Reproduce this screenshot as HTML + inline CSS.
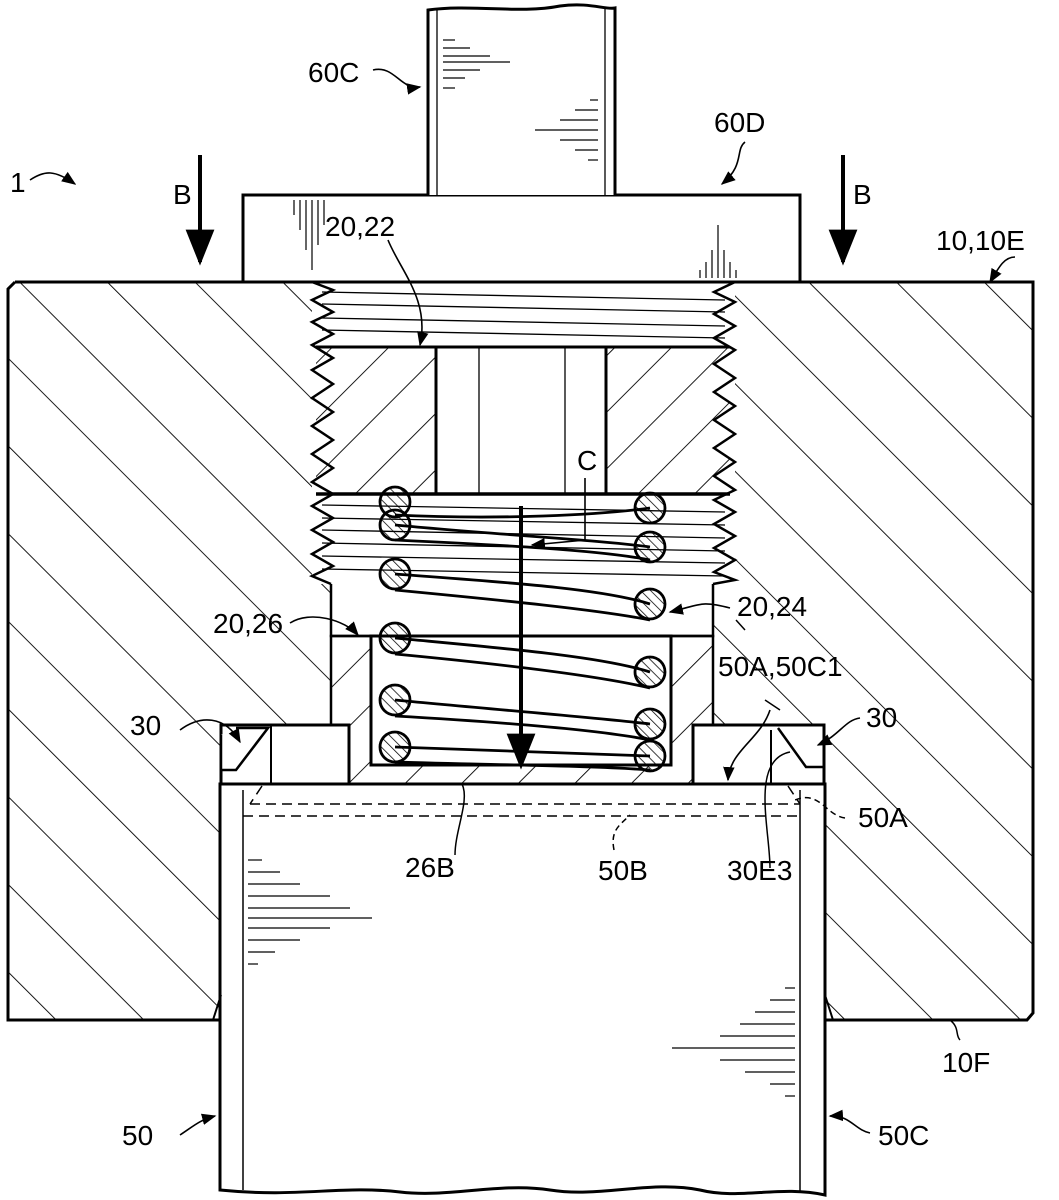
<!DOCTYPE html>
<html><head><meta charset="utf-8"><style>
html,body{margin:0;padding:0;background:#fff;}
svg{display:block}
text{font-family:"Liberation Sans",sans-serif;font-size:28px;fill:#000}
</style></head><body>
<svg width="1059" height="1200" viewBox="0 0 1059 1200" xmlns="http://www.w3.org/2000/svg">
<defs>
<pattern id="hb" width="62" height="62" patternUnits="userSpaceOnUse" patternTransform="rotate(-45)"><line x1="0" y1="0" x2="0" y2="62" stroke="#000" stroke-width="1.8"/></pattern>
<pattern id="hp" width="40" height="40" patternUnits="userSpaceOnUse" patternTransform="rotate(45)"><line x1="0" y1="0" x2="0" y2="40" stroke="#000" stroke-width="1.8"/></pattern>
<pattern id="hc" width="7" height="7" patternUnits="userSpaceOnUse" patternTransform="rotate(-45)"><line x1="0" y1="0" x2="0" y2="7" stroke="#000" stroke-width="1.5"/></pattern>
<marker id="ar" viewBox="0 0 10 10" refX="9" refY="5" markerWidth="9" markerHeight="9" orient="auto"><path d="M0,1 L10,5 L0,9 z" fill="#000"/></marker>
</defs>

<!-- main block -->
<path d="M15,282 L1033,282 L1033,1013 L1027,1020 L825,1020 L825,725 L713,725 L713,584 L735,584 L735,282 L312,282 L312,584 L331,584 L331,725 L221,725 L221,1020 L8,1020 L8,289 Z" fill="url(#hb)" stroke="none"/>
<path d="M15,282 L1033,282 L1033,1013 L1027,1020 L825,1020 M221,1020 L8,1020 L8,289 L15,282" fill="none" stroke="#000" stroke-width="3"/>
<!-- threads left -->
<polyline points="312,282 333,290 312,300 333,312 312,322 333,334 312,345 333,358 312,370 333,384 312,398 333,412 312,426 333,440 312,454 333,468 312,482 333,494 312,506 333,518 312,530 333,542 312,554 333,566 312,576 331,584" fill="none" stroke="#000" stroke-width="2.5"/>
<polyline points="735,282 714,292 735,302 714,314 735,326 714,338 735,350 714,364 735,378 714,392 735,406 714,420 735,434 714,448 735,462 714,476 735,490 714,500 735,512 714,524 735,536 714,548 735,560 714,572 735,580 713,584" fill="none" stroke="#000" stroke-width="2.5"/>
<!-- thread lines -->
<g stroke="#000" stroke-width="1.3">
<line x1="322" y1="292" x2="725" y2="300"/><line x1="322" y1="304" x2="725" y2="312"/><line x1="322" y1="318" x2="725" y2="326"/><line x1="322" y1="330" x2="725" y2="338"/>
<line x1="322" y1="505" x2="725" y2="512"/><line x1="322" y1="518" x2="725" y2="525"/><line x1="322" y1="530" x2="725" y2="538"/><line x1="322" y1="543" x2="725" y2="551"/><line x1="322" y1="556" x2="725" y2="563"/><line x1="322" y1="569" x2="725" y2="576"/>
</g>
<!-- plug 20,22 -->
<path d="M316,347 L730,347 L730,494 L316,494 Z" fill="url(#hp)"/>
<rect x="436" y="347" width="170" height="147" fill="#fff" stroke="#000" stroke-width="3"/>
<line x1="479" y1="347" x2="479" y2="494" stroke="#000" stroke-width="1.3"/>
<line x1="565" y1="347" x2="565" y2="494" stroke="#000" stroke-width="1.3"/>
<line x1="316" y1="347" x2="730" y2="347" stroke="#000" stroke-width="3"/>
<line x1="316" y1="494" x2="730" y2="494" stroke="#000" stroke-width="3.5"/>
<!-- step region -->
<path d="M331,584 L331,636 L713,636 L713,584" fill="#fff" stroke="#000" stroke-width="2.5"/>
<!-- sleeve 26 -->
<path d="M331,636 L371,636 L371,765 L671,765 L671,636 L713,636 L713,725 L693,725 L693,784 L349,784 L349,725 L331,725 Z" fill="url(#hp)" stroke="#000" stroke-width="2.5"/>
<rect x="371" y="636" width="300" height="129" fill="#fff" stroke="#000" stroke-width="3"/>
<!-- collars -->
<path d="M221,725 L349,725 L349,784 L221,784 Z" fill="#fff" stroke="#000" stroke-width="3"/>
<line x1="271" y1="725" x2="271" y2="784" stroke="#000" stroke-width="2"/>
<path d="M221,735 L221,770 L236,770 L268,728 L236,728" fill="#fff" stroke="#000" stroke-width="2.5"/>
<path d="M693,725 L824,725 L824,784 L693,784 Z" fill="#fff" stroke="#000" stroke-width="3"/>
<line x1="771" y1="730" x2="771" y2="784" stroke="#000" stroke-width="2"/>
<path d="M778,728 L806,767 L824,767" fill="none" stroke="#000" stroke-width="2.5"/>
<!-- coils -->
<g stroke="#000" stroke-width="2.8" fill="none">
<path d="M395,525 C500,535 600,540 650,547"/><path d="M395,515 C500,520 600,515 650,508"/>
<path d="M395,574 C500,582 600,588 650,604"/><path d="M395,540 C500,545 600,550 650,560"/>
<path d="M395,590 C500,600 600,610 650,620"/><path d="M395,638 C500,648 600,656 650,672"/>
<path d="M395,654 C500,664 600,676 650,688"/><path d="M395,700 C500,710 600,718 650,724"/>
<path d="M395,716 C500,722 600,730 650,740"/><path d="M395,747 C500,750 600,755 650,756"/>
<path d="M395,762 C500,765 600,766 650,770"/>
</g>
<g stroke="#000" stroke-width="2.8" fill="url(#hc)">
<circle cx="395" cy="502" r="15"/><circle cx="395" cy="525" r="15"/><circle cx="395" cy="574" r="15"/><circle cx="395" cy="638" r="15"/><circle cx="395" cy="700" r="15"/><circle cx="395" cy="747" r="15"/>
<circle cx="650" cy="508" r="15"/><circle cx="650" cy="547" r="15"/><circle cx="650" cy="604" r="15"/><circle cx="650" cy="672" r="15"/><circle cx="650" cy="724" r="15"/><circle cx="650" cy="756" r="15"/>
</g>
<line x1="521" y1="506" x2="521" y2="766" stroke="#000" stroke-width="4" marker-end="url(#ar)"/>
<!-- cylinder 50 -->
<path d="M220,784 L825,784 L825,1195 C780,1185 740,1200 700,1190 C650,1180 600,1198 550,1190 C500,1182 450,1198 400,1192 C340,1185 300,1198 220,1190 Z" fill="#fff" stroke="#000" stroke-width="3"/>
<line x1="243" y1="790" x2="243" y2="1190" stroke="#000" stroke-width="1.5"/>
<line x1="800" y1="790" x2="800" y2="1193" stroke="#000" stroke-width="1.5"/>
<g stroke="#000" stroke-width="1.5" stroke-dasharray="10,6" fill="none">
<line x1="250" y1="804" x2="800" y2="804"/><line x1="243" y1="816" x2="800" y2="816"/>
<line x1="262" y1="786" x2="250" y2="804"/><line x1="788" y1="786" x2="800" y2="804"/>
</g>
<line x1="213" y1="1020" x2="221" y2="995" stroke="#000" stroke-width="2"/>
<line x1="833" y1="1020" x2="825" y2="995" stroke="#000" stroke-width="2"/>
<!-- shading lines on cylinder -->
<g stroke="#000" stroke-width="1.2">
<line x1="248" y1="860" x2="262" y2="860"/><line x1="248" y1="872" x2="280" y2="872"/><line x1="248" y1="884" x2="300" y2="884"/><line x1="248" y1="896" x2="330" y2="896"/><line x1="248" y1="908" x2="350" y2="908"/><line x1="248" y1="918" x2="372" y2="918"/><line x1="248" y1="928" x2="330" y2="928"/><line x1="248" y1="940" x2="300" y2="940"/><line x1="248" y1="952" x2="275" y2="952"/><line x1="248" y1="964" x2="258" y2="964"/>
<line x1="795" y1="988" x2="785" y2="988"/><line x1="795" y1="1000" x2="770" y2="1000"/><line x1="795" y1="1012" x2="755" y2="1012"/><line x1="795" y1="1024" x2="740" y2="1024"/><line x1="795" y1="1036" x2="720" y2="1036"/><line x1="795" y1="1048" x2="672" y2="1048"/><line x1="795" y1="1060" x2="720" y2="1060"/><line x1="795" y1="1072" x2="745" y2="1072"/><line x1="795" y1="1084" x2="770" y2="1084"/><line x1="795" y1="1096" x2="785" y2="1096"/>
</g>
<!-- cap 60D and stem 60C -->
<rect x="243" y="195" width="557" height="87" fill="#fff" stroke="#000" stroke-width="3"/>
<path d="M428,195 L428,10 C470,4 520,14 560,6 C590,2 605,10 615,8 L615,195" fill="#fff" stroke="#000" stroke-width="3"/>
<line x1="437" y1="10" x2="437" y2="195" stroke="#000" stroke-width="1.3"/>
<line x1="605" y1="8" x2="605" y2="195" stroke="#000" stroke-width="1.3"/>
<g stroke="#000" stroke-width="1.2">
<line x1="443" y1="40" x2="455" y2="40"/><line x1="443" y1="48" x2="470" y2="48"/><line x1="443" y1="56" x2="490" y2="56"/><line x1="443" y1="62" x2="510" y2="62"/><line x1="443" y1="70" x2="480" y2="70"/><line x1="443" y1="78" x2="465" y2="78"/><line x1="443" y1="88" x2="455" y2="88"/>
<line x1="598" y1="100" x2="590" y2="100"/><line x1="598" y1="110" x2="575" y2="110"/><line x1="598" y1="120" x2="560" y2="120"/><line x1="598" y1="130" x2="535" y2="130"/><line x1="598" y1="140" x2="560" y2="140"/><line x1="598" y1="150" x2="575" y2="150"/><line x1="598" y1="160" x2="588" y2="160"/>
<line x1="300" y1="200" x2="300" y2="230"/><line x1="306" y1="200" x2="306" y2="250"/><line x1="312" y1="200" x2="312" y2="270"/><line x1="318" y1="200" x2="318" y2="245"/><line x1="324" y1="200" x2="324" y2="225"/><line x1="294" y1="200" x2="294" y2="215"/>
<line x1="700" y1="278" x2="700" y2="270"/><line x1="706" y1="278" x2="706" y2="262"/><line x1="712" y1="278" x2="712" y2="250"/><line x1="718" y1="278" x2="718" y2="225"/><line x1="724" y1="278" x2="724" y2="250"/><line x1="730" y1="278" x2="730" y2="262"/><line x1="736" y1="278" x2="736" y2="270"/>
</g>
<!-- B arrows -->
<line x1="200" y1="155" x2="200" y2="262" stroke="#000" stroke-width="4" marker-end="url(#ar)"/>
<line x1="843" y1="155" x2="843" y2="262" stroke="#000" stroke-width="4" marker-end="url(#ar)"/>
<!-- leaders -->
<g stroke="#000" stroke-width="1.6" fill="none" marker-end="url(#ar)">
<path d="M373,70 C395,65 400,90 420,87"/>
<path d="M745,142 C735,150 745,165 722,184"/>
<path d="M30,180 C45,170 55,170 75,184"/>
<path d="M1015,257 C1005,257 1000,265 990,282"/>
<path d="M388,240 C400,270 430,300 420,345"/>
<path d="M585,478 L585,540 L532,545"/>
<path d="M730,608 C700,600 700,605 670,612"/>
<path d="M290,623 C310,610 345,620 358,635"/>
<path d="M180,730 C200,715 225,715 240,742"/>
<path d="M860,718 C845,720 840,735 818,745"/>
<path d="M770,710 C760,740 730,750 728,780"/>
<path d="M180,1135 C195,1125 200,1120 215,1116"/>
<path d="M870,1133 C855,1130 850,1115 830,1116"/>
</g>
<g stroke="#000" stroke-width="1.5" fill="none">
<path d="M960,1040 C955,1035 960,1028 950,1020"/>
<path d="M770,868 C770,830 750,760 790,752"/>
<path d="M455,855 C455,830 470,800 462,784"/>
<path d="M614,850 C610,830 620,825 630,815" stroke-dasharray="6,4"/>
<path d="M845,818 C825,815 820,790 795,800" stroke-dasharray="6,4"/>
<line x1="736" y1="620" x2="745" y2="630"/>
<line x1="765" y1="700" x2="780" y2="710"/>
</g>
<!-- labels -->
<text x="308" y="82">60C</text>
<text x="714" y="132">60D</text>
<text x="173" y="204" font-size="22">B</text>
<text x="853" y="204" font-size="22">B</text>
<text x="10" y="192">1</text>
<text x="936" y="250">10,10E</text>
<text x="325" y="236">20,22</text>
<text x="577" y="470" font-size="22">C</text>
<text x="737" y="616">20,24</text>
<text x="213" y="633">20,26</text>
<text x="718" y="676">50A,50C1</text>
<text x="130" y="735">30</text>
<text x="866" y="727">30</text>
<text x="405" y="877">26B</text>
<text x="598" y="880">50B</text>
<text x="727" y="880">30E3</text>
<text x="858" y="827">50A</text>
<text x="942" y="1072">10F</text>
<text x="122" y="1145">50</text>
<text x="878" y="1145">50C</text>
</svg>
</body></html>
